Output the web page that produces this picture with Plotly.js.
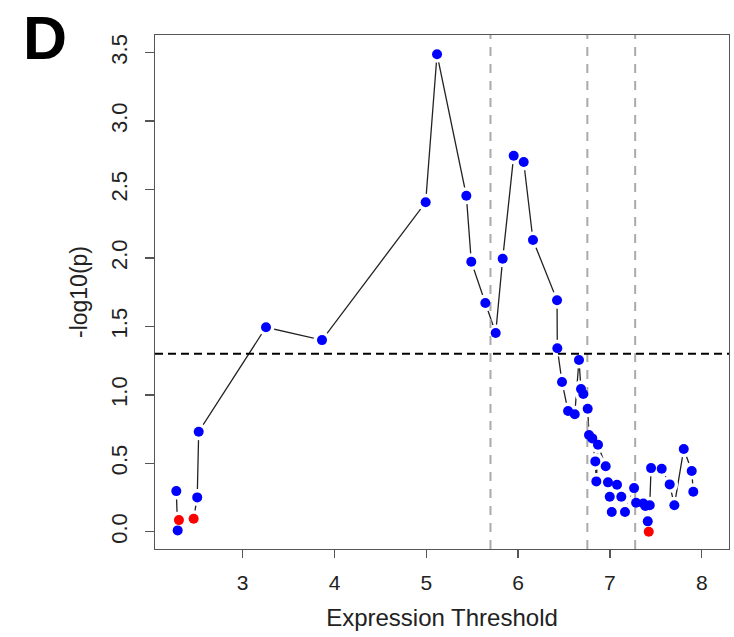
<!DOCTYPE html>
<html>
<head>
<meta charset="utf-8">
<script src="https://cdn.plot.ly/plotly-3.0.1.min.js"></script>
<style>
html,body{margin:0;padding:0;background:#fff;}
#chart{width:734px;height:637px;}
</style>
</head>
<body>
<div id="chart"></div>
<script>
// Expression threshold vs -log10(p), blue = regular points
const thresholdBlue = [2.277, 2.292, 2.505, 2.521, 3.254, 3.864, 4.993, 5.117, 5.436, 5.490,
  5.643, 5.756, 5.832, 5.952, 6.061, 6.162, 6.424, 6.427, 6.478, 6.544,
  6.617, 6.663, 6.685, 6.710, 6.758, 6.772, 6.808, 6.841, 6.852, 6.870,
  6.954, 6.979, 6.998, 7.020, 7.077, 7.124, 7.164, 7.263, 7.285, 7.364,
  7.386, 7.412, 7.434, 7.448, 7.564, 7.651, 7.702, 7.804, 7.891, 7.908];
const logPBlue = [0.297, 0.010, 0.251, 0.731, 1.494, 1.400, 2.407, 3.488, 2.455, 1.973,
  1.671, 1.452, 1.995, 2.747, 2.701, 2.131, 1.691, 1.340, 1.094, 0.882,
  0.858, 1.255, 1.043, 1.006, 0.899, 0.707, 0.682, 0.514, 0.368, 0.636,
  0.478, 0.361, 0.256, 0.144, 0.343, 0.256, 0.144, 0.319, 0.212, 0.207,
  0.188, 0.076, 0.193, 0.465, 0.460, 0.346, 0.193, 0.604, 0.444, 0.292];
// red points
const thresholdRed = [2.306, 2.466, 7.423];
const logPRed = [0.085, 0.095, 0.000];
// reference lines
const pCutoff = 1.301;               // -log10(0.05)
const verticalCutoffs = [5.699, 6.754, 7.275];
const xTicks = [3, 4, 5, 6, 7, 8];
const yTicks = [0, 0.5, 1, 1.5, 2, 2.5, 3, 3.5];

const xRange = [2.045, 8.297];
const yRange = [-0.126, 3.629];

// combined path ordered by threshold
const allPts = thresholdBlue.map((x, i) => [x, logPBlue[i]])
  .concat(thresholdRed.map((x, i) => [x, logPRed[i]]))
  .sort((a, b) => a[0] - b[0]);
const pathX = allPts.map(p => p[0]);
const pathY = allPts.map(p => p[1]);

const font = "Liberation Sans, Arial, Helvetica, sans-serif";

const traces = [];
traces.push({x: pathX, y: pathY, mode: 'lines', line: {color: '#222', width: 1.3},
  hoverinfo: 'skip', showlegend: false});
// white gaps around points (R type="b" look)
traces.push({x: pathX, y: pathY, mode: 'markers',
  marker: {color: '#fff', size: 17, line: {width: 0}}, hoverinfo: 'skip', showlegend: false});
verticalCutoffs.forEach(v => {
  traces.push({x: [v, v], y: yRange, mode: 'lines',
    line: {color: '#aaaaaa', width: 2, dash: '9px,8px'}, hoverinfo: 'skip', showlegend: false});
});
traces.push({x: xRange, y: [pCutoff, pCutoff], mode: 'lines',
  line: {color: '#000', width: 2, dash: '8px,5px'}, hoverinfo: 'skip', showlegend: false});
traces.push({x: thresholdBlue, y: logPBlue, mode: 'markers',
  marker: {color: '#0000ff', size: 10, line: {width: 0}}, showlegend: false});
traces.push({x: thresholdRed, y: logPRed, mode: 'markers',
  marker: {color: '#ff0000', size: 10, line: {width: 0}}, showlegend: false});

const layout = {
  width: 734, height: 637,
  margin: {l: 155, r: 5, t: 35, b: 88, pad: 0},
  paper_bgcolor: '#fff', plot_bgcolor: '#fff',
  font: {family: font, color: '#222'},
  showlegend: false,
  xaxis: {
    range: xRange, tickvals: xTicks, ticktext: xTicks.map(String),
    showgrid: false, zeroline: false, showline: true, mirror: true,
    linecolor: '#555', linewidth: 1.3,
    ticks: 'outside', ticklen: 8, tickwidth: 1.3, tickcolor: '#555',
    tickfont: {size: 21, color: '#222'}, ticklabelstandoff: 6,
    title: {text: 'Expression Threshold', font: {size: 24, color: '#222'}, standoff: 16}
  },
  yaxis: {
    range: yRange, tickvals: yTicks, ticktext: yTicks.map(v => v.toFixed(1)),
    showgrid: false, zeroline: false, showline: true, mirror: true,
    linecolor: '#555', linewidth: 1.3,
    ticks: 'outside', ticklen: 9, tickwidth: 1.3, tickcolor: '#555',
    tickangle: -90,
    tickfont: {size: 22, color: '#222'}, ticklabelstandoff: 9,
    title: {text: '-log10(p)', font: {size: 23, color: '#222'}, standoff: 13}
  },
  annotations: [{
    text: '<b>D</b>', xref: 'paper', yref: 'paper',
    x: (44.5 - 155) / 574, y: (549 - 38) / 514, xanchor: 'center', yanchor: 'middle',
    showarrow: false, font: {family: font, size: 61, color: '#000'}
  }]
};

Plotly.newPlot('chart', traces, layout, {staticPlot: true, displayModeBar: false});
</script>
</body>
</html>
